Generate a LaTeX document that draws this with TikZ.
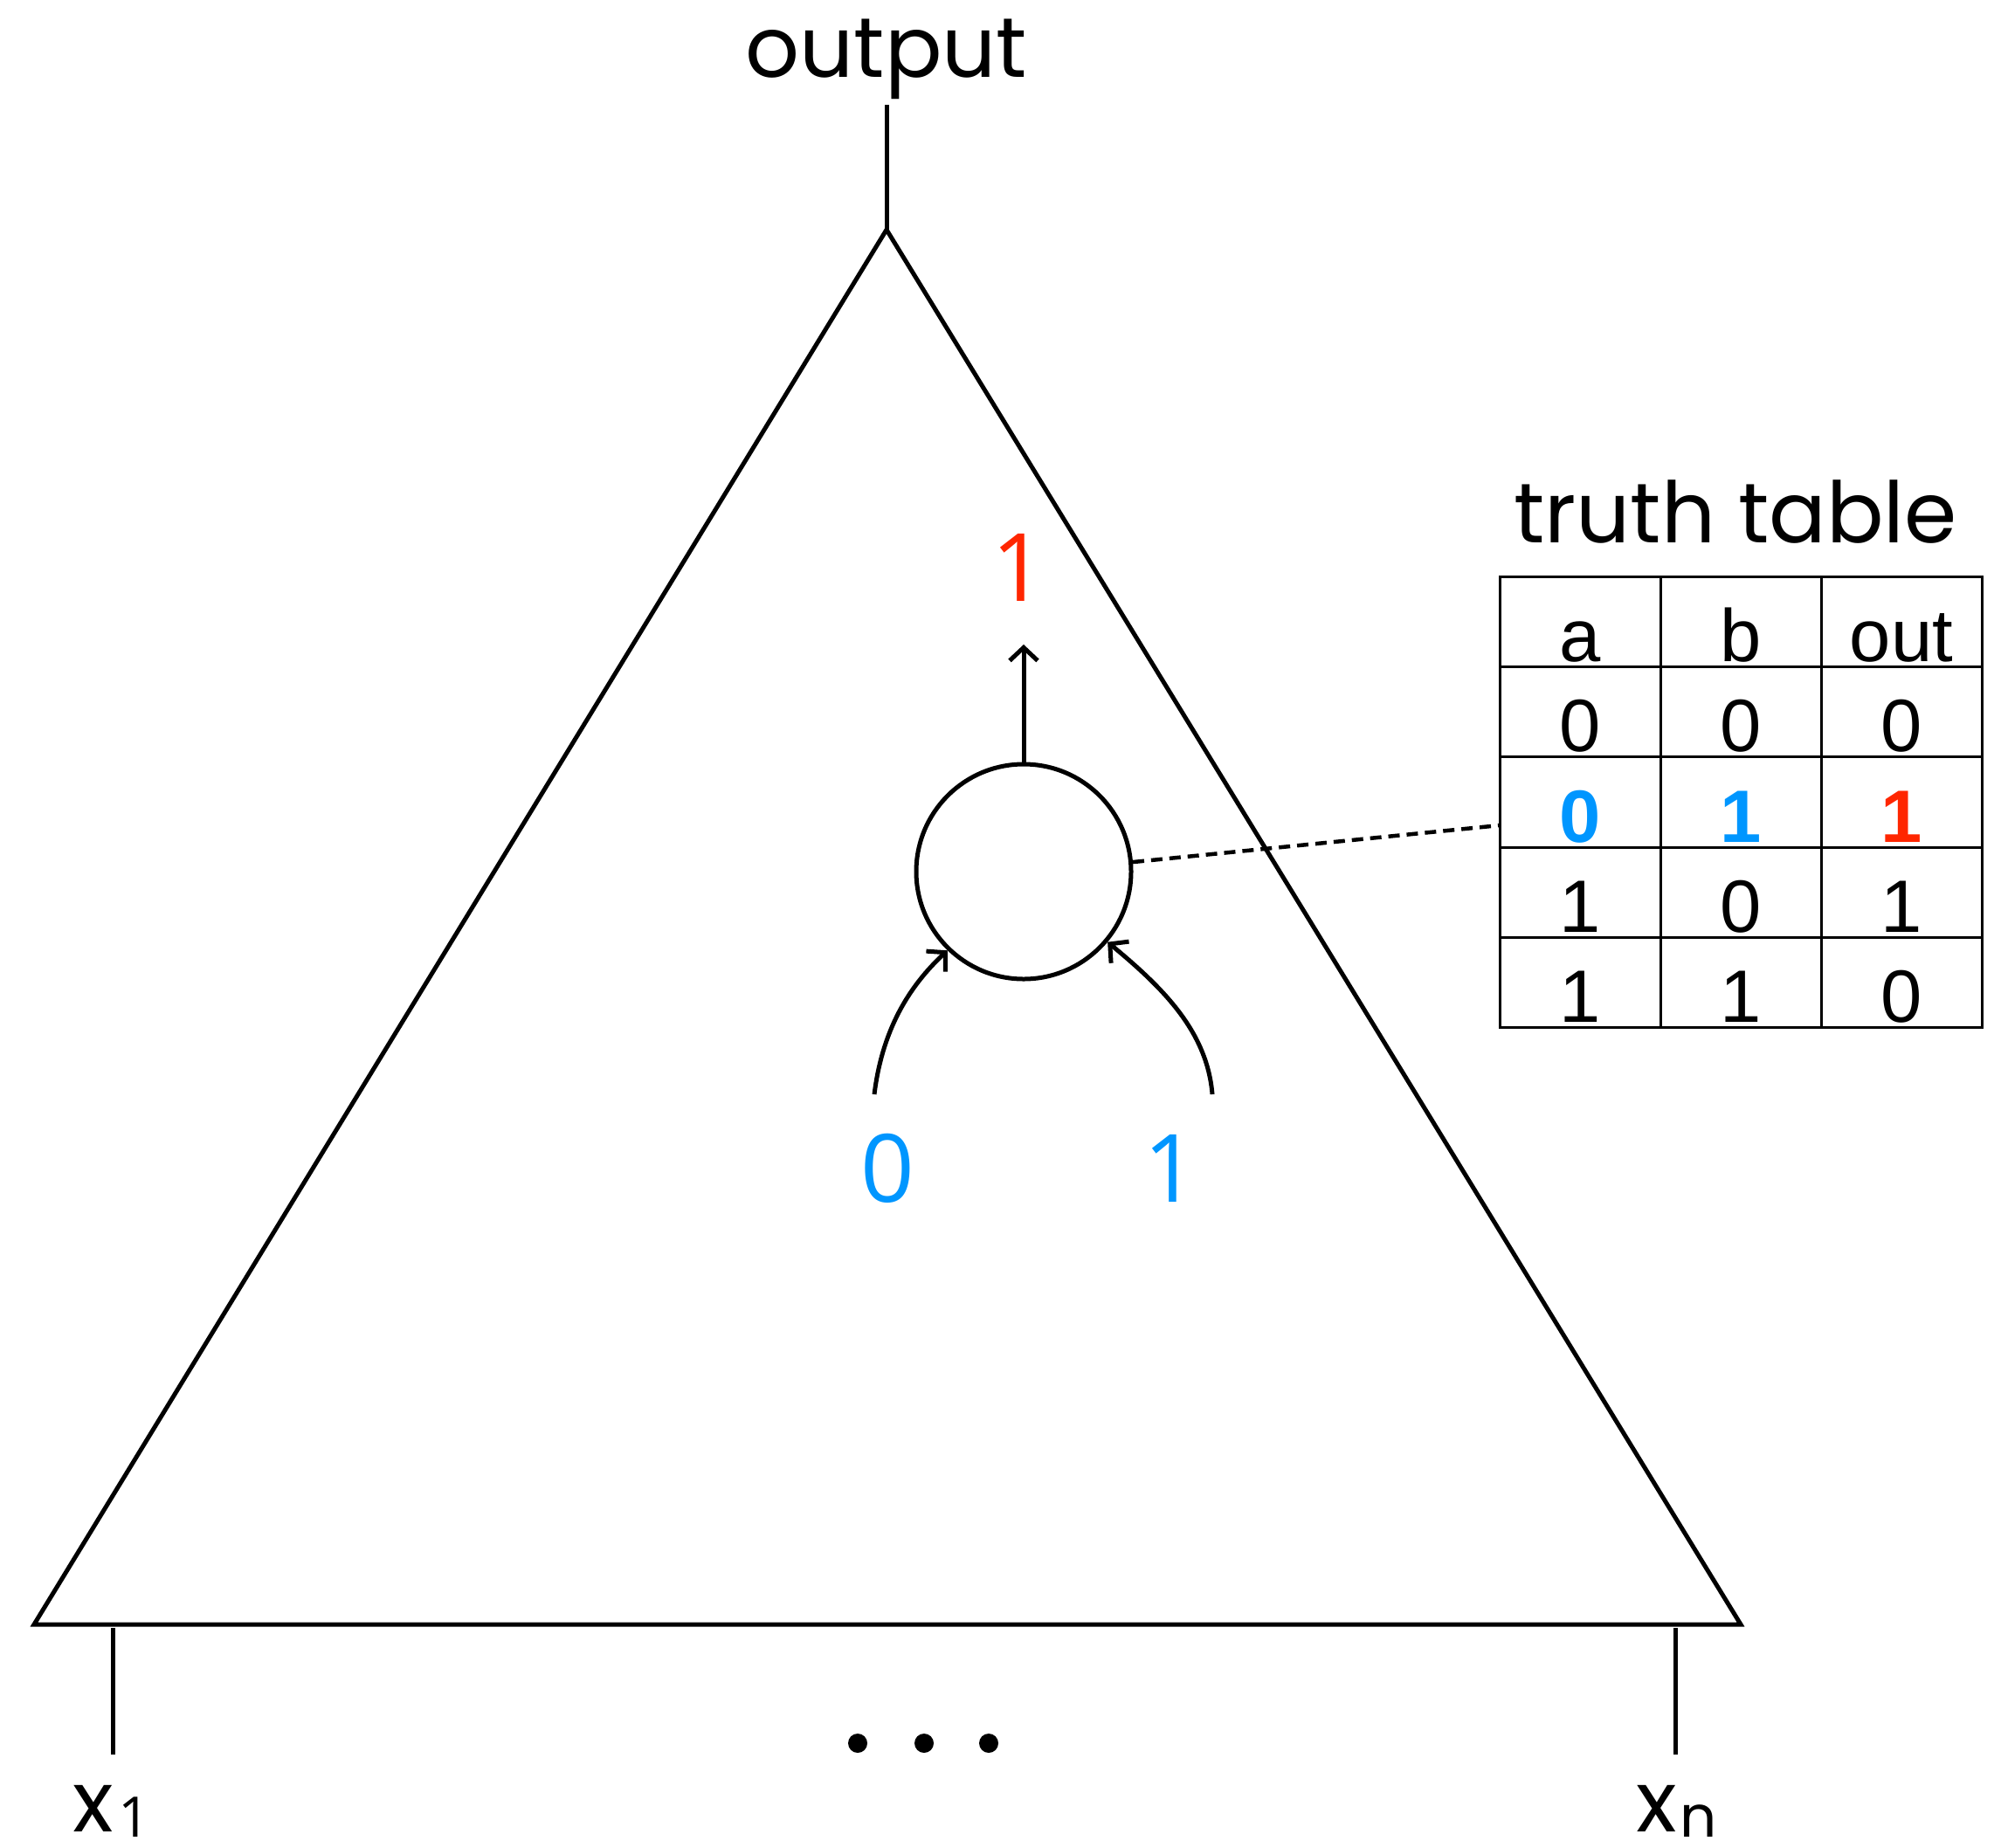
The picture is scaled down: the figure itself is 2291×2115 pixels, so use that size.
\documentclass[tikz,border=0pt]{standalone}
\usepackage{fontspec}
\setmainfont{Poppins}
\newfontfamily\tabfont{Liberation Sans}
\newfontfamily\digfont{Open Sans}
\usetikzlibrary{arrows.meta}
\definecolor{myblue}{RGB}{0,150,255}
\definecolor{myred}{RGB}{255,38,0}
\tikzset{
  edge/.style={line width=5pt},
  thinedge/.style={line width=3pt},
  tipped/.style={-{Straight Barb[length=15pt,width=32pt,line width=5pt]}},
  lbl/.style={inner sep=0pt, anchor=base, font=\fontsize{97}{100}\selectfont},
  biglbl/.style={inner sep=0pt, anchor=base, font=\digfont\fontsize{108}{110}\selectfont},
  cell/.style={inner sep=0pt, anchor=base, font=\tabfont\fontsize{85}{90}\selectfont},
  boldcell/.style={cell, font=\tabfont\bfseries\fontsize{85}{90}\selectfont},
  gate/.style={draw, circle, line width=5pt, minimum size=246pt, inner sep=0pt},
  dotted link/.style={line width=4.5pt, dash pattern=on 13pt off 8pt},
}
\begin{document}
\begin{tikzpicture}[x=1pt,y=-1pt]
\useasboundingbox (0,0) rectangle (2291,2115);
% triangle
\coordinate (apex) at (1015,263);
\coordinate (bl) at (39,1860);
\coordinate (br) at (1993,1860);
\draw[edge, line join=miter] (apex) -- (bl) -- (br) -- cycle;
% output
\node[lbl] (outlbl) at (1015,88) {output};
\coordinate (outtop) at (1015,120);
\draw[edge] (outtop) -- (apex);
% gate
\node[gate] (g) at (1172,998) {};
\coordinate (gup) at (1172,738);
\draw[edge,tipped] (g.north) -- (gup);
\node[biglbl, myred] (r1) at (1166,688) {1};
% inputs
\coordinate (ina) at (1001,1253);
\coordinate (inb) at (1388,1253);
\draw[edge,tipped] (ina) .. controls (1010,1180) and (1040,1130) .. (g.226);
\draw[edge,tipped] (inb) .. controls (1382,1180) and (1330,1130) .. (g.320);
\node[biglbl, myblue] (b0) at (1016,1376) {0};
\node[biglbl, myblue] (b1) at (1340,1376) {1};
% truth table
\node[lbl] (tttitle) at (1987,621) {truth table};
\coordinate (ttnw) at (1717,660);
\coordinate (ttse) at (2269,1176);
\draw[thinedge] (ttnw) rectangle (ttse);
\foreach \x in {1901,2085} \draw[thinedge] (\x,660) -- (\x,1176);
\foreach \y in {763,866,970,1073} \draw[thinedge] (1717,\y) -- (2269,\y);
\coordinate (ttl) at (1717,945);
\draw[dotted link] (g.5) -- (ttl);
% table texts
\node[cell] (h1) at (1809,757) {a};
\node[cell] (h2) at (1993,757) {b};
\node[cell] (h3) at (2177,757) {out};
\node[cell] (c11) at (1809,860) {0};
\node[cell] (c12) at (1993,860) {0};
\node[cell] (c13) at (2177,860) {0};
\node[boldcell, myblue] (c21) at (1809,964) {0};
\node[boldcell, myblue] (c22) at (1993,964) {1};
\node[boldcell, myred] (c23) at (2177,964) {1};
\node[cell] (c31) at (1809,1067) {1};
\node[cell] (c32) at (1993,1067) {0};
\node[cell] (c33) at (2177,1067) {1};
\node[cell] (c41) at (1809,1170) {1};
\node[cell] (c42) at (1993,1170) {1};
\node[cell] (c43) at (2177,1170) {0};
% input lines
\coordinate (x1top) at (129,1864);
\coordinate (x1bot) at (129,2009);
\coordinate (xntop) at (1918,1864);
\coordinate (xnbot) at (1918,2009);
\draw[edge] (x1top) -- (x1bot);
\draw[edge] (xntop) -- (xnbot);
\foreach \x in {982,1058,1132} \fill (\x,1996) circle (11pt);
\node[lbl, anchor=base west] (x1) at (83,2097) {x\kern6pt\raisebox{-6pt}{\digfont\fontsize{64}{64}\selectfont 1}};
\node[lbl, anchor=base west] (xn) at (1873,2097) {x\kern4pt\raisebox{-6pt}{\fontsize{66}{66}\selectfont n}};
\end{tikzpicture}
\end{document}
